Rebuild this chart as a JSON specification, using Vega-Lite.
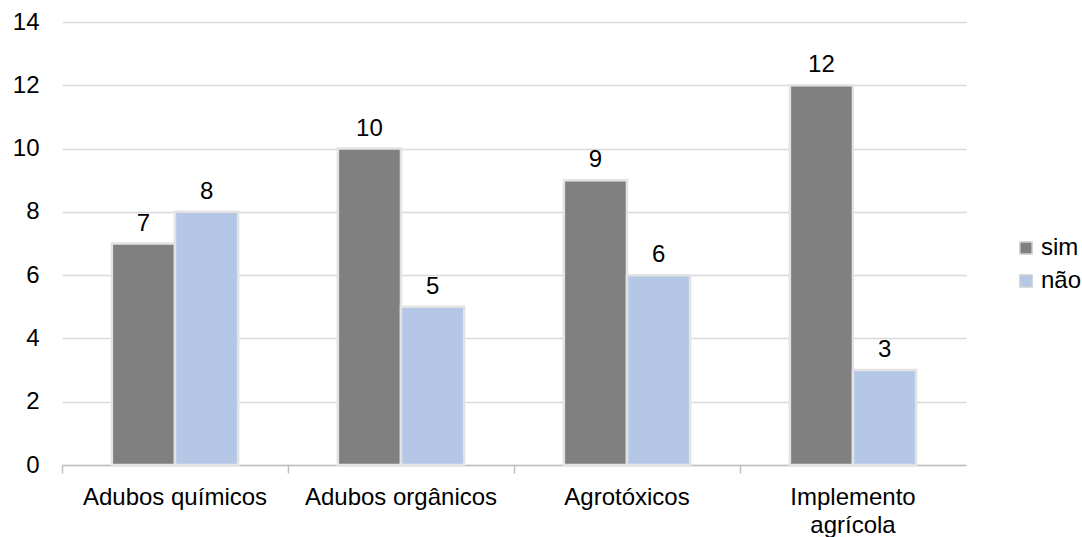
{
  "$schema": "https://vega.github.io/schema/vega-lite/v6.json",
  "width": 904,
  "height": 443,
  "autosize": "none",
  "padding": {"left": 62, "top": 22, "right": 116, "bottom": 72},
  "background": "white",
  "config": {
    "font": "Liberation Sans",
    "view": {"stroke": null},
    "text": {"font": "Liberation Sans"}
  },
  "data": {
    "values": [
      {"categoria": "Adubos químicos", "resposta": "sim", "valor": 7},
      {"categoria": "Adubos químicos", "resposta": "não", "valor": 8},
      {"categoria": "Adubos orgânicos", "resposta": "sim", "valor": 10},
      {"categoria": "Adubos orgânicos", "resposta": "não", "valor": 5},
      {"categoria": "Agrotóxicos", "resposta": "sim", "valor": 9},
      {"categoria": "Agrotóxicos", "resposta": "não", "valor": 6},
      {"categoria": "Implemento agrícola", "resposta": "sim", "valor": 12},
      {"categoria": "Implemento agrícola", "resposta": "não", "valor": 3}
    ]
  },
  "encoding": {
    "x": {
      "field": "categoria",
      "type": "nominal",
      "sort": null,
      "scale": {"paddingInner": 0, "paddingOuter": 0},
      "axis": {
        "title": null,
        "labelAngle": 0,
        "labelFontSize": 24,
        "labelColor": "#000000",
        "labelPadding": 12,
        "labelLineHeight": 28,
        "labelLimit": 0,
        "labelExpr": "datum.label == 'Implemento agrícola' ? ['Implemento', 'agrícola'] : datum.label",
        "bandPosition": 0,
        "domainColor": "#bfbfbf",
        "domainWidth": 1.5,
        "tickColor": "#bfbfbf",
        "tickWidth": 1.5,
        "tickSize": 8,
        "grid": false
      }
    },
    "xOffset": {
      "field": "resposta",
      "type": "nominal",
      "sort": ["sim", "não"],
      "scale": {"paddingInner": 0, "paddingOuter": 0.79}
    },
    "y": {
      "field": "valor",
      "type": "quantitative",
      "scale": {"domain": [0, 14]},
      "axis": {
        "title": null,
        "values": [0, 2, 4, 6, 8, 10, 12, 14],
        "domain": false,
        "ticks": false,
        "labelFontSize": 24,
        "labelColor": "#000000",
        "labelPadding": 23,
        "gridColor": "#d9d9d9",
        "gridWidth": 1.5
      }
    }
  },
  "layer": [
    {
      "mark": {"type": "bar", "stroke": "#e3e3e3", "strokeWidth": 2.5},
      "encoding": {
        "color": {
          "field": "resposta",
          "type": "nominal",
          "sort": ["sim", "não"],
          "scale": {"domain": ["sim", "não"], "range": ["#808080", "#b4c7e7"]},
          "legend": {
            "title": null,
            "orient": "none",
            "legendX": 952,
            "legendY": 214,
            "symbolType": "square",
            "symbolSize": 150,
            "symbolStrokeColor": "#d0d0d0",
            "symbolStrokeWidth": 1.5,
            "labelFontSize": 24,
            "labelColor": "#000000",
            "labelOffset": 3,
            "labelLimit": 0,
            "rowPadding": 9
          }
        }
      }
    },
    {
      "mark": {"type": "text", "baseline": "alphabetic", "dy": -13, "fontSize": 24, "color": "#000000"},
      "encoding": {"text": {"field": "valor", "type": "quantitative"}}
    },
    {
      "data": {"values": [{"categoria": "Implemento agrícola"}]},
      "mark": {"type": "rule", "color": "#bfbfbf", "strokeWidth": 1.5, "y2Offset": 8},
      "encoding": {
        "x": {"field": "categoria", "type": "nominal", "bandPosition": 1},
        "xOffset": null,
        "y": {"datum": 0},
        "y2": {"datum": 0}
      }
    }
  ]
}
